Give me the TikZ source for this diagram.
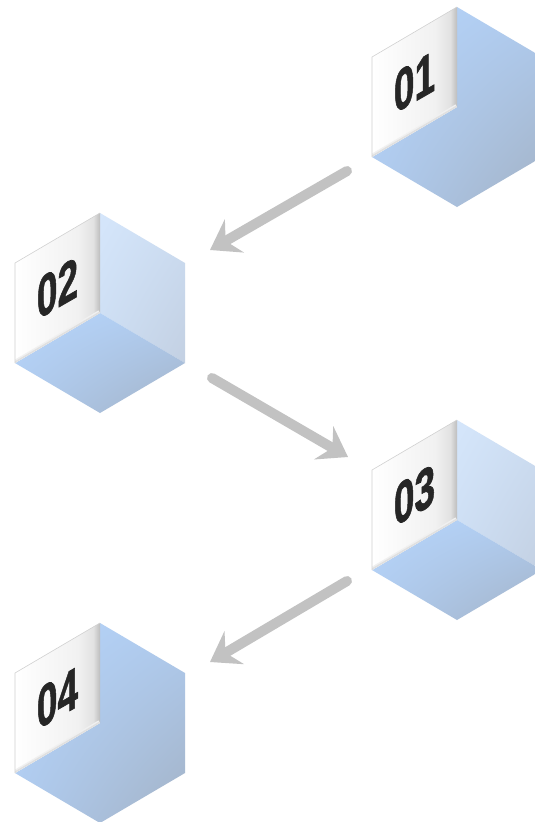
\documentclass[tikz,border=0pt]{standalone}
\usepackage{fontspec}
\setmainfont{Liberation Sans}
\newfontfamily\digitfont[BoldFeatures={FakeBold=1.3}]{Liberation Sans}
\usetikzlibrary{arrows.meta,shadings}
\definecolor{arrowgray}{HTML}{C2C2C2}
\definecolor{digitcol}{HTML}{262626}
\definecolor{wfA}{HTML}{FFFFFF}
\definecolor{wfB}{HTML}{F1F1F1}
\definecolor{wfC}{HTML}{E2E2E2}
\definecolor{wfD}{HTML}{BDBDBD}
\definecolor{bA}{HTML}{B7D5FA}
\definecolor{bB}{HTML}{AFCBEF}
\definecolor{bC}{HTML}{A3B2C5}
\definecolor{lA}{HTML}{D5E6FB}
\definecolor{lB}{HTML}{CCDDF2}
\definecolor{lC}{HTML}{C3D0E2}
\pgfdeclarehorizontalshading{whiteface}{100bp}{color(0bp)=(wfA); color(25bp)=(wfA); color(62bp)=(wfB); color(71bp)=(wfC); color(75bp)=(wfD); color(100bp)=(wfD)}
\tikzset{
  arrowline/.style={line width=10pt, draw=arrowgray, line cap=round,
    -{Stealth[length=28pt, width=38pt, inset=10pt]}},
  digitlabel/.style={text=digitcol, inner sep=0pt, yslant=0.577,
    font=\digitfont\bfseries\fontsize{58}{58}\selectfont},
  faceedge/.style={draw=black!18, line width=0.6pt}
}
% #1 name, #2 cx, #3 cy, #4 label, #5 two-tone (1) or merged (0)
\newcommand\drawcube[5]{%
  \begin{scope}[shift={(#2,#3)}]
    \coordinate (#1) at (0,0);
    \ifnum#5=1
      \shade[upper left=lA, upper right=lB, lower left=lB, lower right=lC]
        (0,-100) -- (85,-50) -- (85,50) -- (0,0) -- cycle;
      \shade[upper left=bA, upper right=bB, lower left=bB, lower right=bC]
        (0,0) -- (85,50) -- (0,100) -- (-85,50) -- cycle;
    \else
      \shade[upper left=bA, upper right=bB, lower left=bB, lower right=bC]
        (0,-100) -- (85,-50) -- (85,50) -- (0,100) -- (-85,50) -- (0,0) -- cycle;
    \fi
    \begin{scope}
      \clip (-85,-50) -- (0,-100) -- (0,0) -- (-85,50) -- cycle;
      \shade[shading=whiteface] (-85,-50) -- (0,-100) -- (0,0) -- (-85,50) -- cycle;
      \draw[line width=6pt, black!6] (0,0) -- (-85,50);
      \draw[line width=3pt, black!12] (0,0) -- (-85,50);
    \end{scope}
    \draw[faceedge] (-85,50) -- (-85,-50) -- (0,-100);
    \node[digitlabel] (#1-label) at (-42.5,-25) {\scalebox{0.64}[1]{#4}};
  \end{scope}}
\begin{document}
\begin{tikzpicture}[x=1pt, y=-1pt]
  \useasboundingbox (0,0) rectangle (535,822);
  \fill[white] (0,0) rectangle (535,822);
  \clip (0,0) rectangle (535,822);
  \drawcube{c1}{457}{107}{01}{0}
  \drawcube{c2}{100}{313}{02}{1}
  \drawcube{c3}{457}{520}{03}{1}
  \drawcube{c4}{100}{723}{04}{0}
  \coordinate (a1s) at (347,171);
  \coordinate (a1e) at (210,250);
  \coordinate (a2s) at (212,378);
  \coordinate (a2e) at (348,457);
  \coordinate (a3s) at (347,581);
  \coordinate (a3e) at (210,662);
  \draw[arrowline] (a1s) -- (a1e);
  \draw[arrowline] (a2s) -- (a2e);
  \draw[arrowline] (a3s) -- (a3e);
\end{tikzpicture}
\end{document}
